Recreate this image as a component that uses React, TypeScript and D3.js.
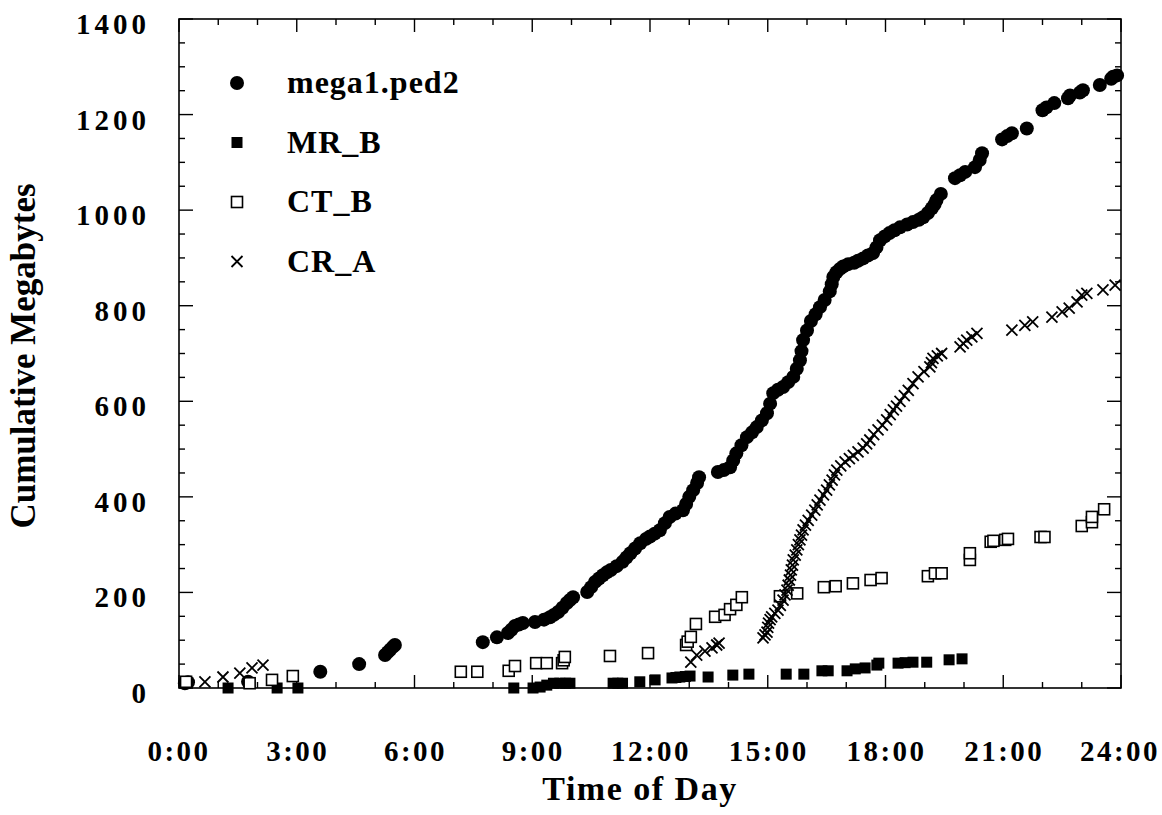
import React from "react";
import * as d3 from "d3";

const W = 1162;
const H = 815;

const xTickLabels = ["0:00", "3:00", "6:00", "9:00", "12:00", "15:00", "18:00", "21:00", "24:00"];
const yTickLabels = ["0", "200", "400", "600", "800", "1000", "1200", "1400"];
const seriesNames = ["mega1.ped2", "MR_B", "CT_B", "CR_A"];

// [hour of day, cumulative MB]
const mega: number[][] = [
  [0.15, 10], [0.23, 12], [1.76, 13], [3.6, 34], [4.59, 50], [5.25, 69], [5.32, 75], [5.38, 80], [5.45, 86], [5.5, 90],
  [7.74, 96], [8.1, 106], [8.38, 115], [8.47, 122], [8.56, 130], [8.66, 133], [8.76, 136], [9.07, 138], [9.3, 143],
  [9.45, 148], [9.55, 153], [9.66, 159], [9.77, 168], [9.88, 178], [9.96, 184], [10.04, 190],
  [10.4, 201], [10.5, 211], [10.6, 222], [10.7, 229], [10.8, 236], [10.9, 242], [11.0, 247], [11.15, 255], [11.3, 264],
  [11.4, 273], [11.5, 282], [11.62, 292], [11.75, 303], [11.9, 312], [12.0, 317], [12.12, 323], [12.25, 330],
  [12.38, 345], [12.5, 358], [12.65, 365], [12.84, 372], [12.92, 385], [13.0, 400], [13.1, 414], [13.2, 429], [13.25, 441],
  [13.73, 452], [13.88, 456], [14.04, 462], [14.12, 476], [14.2, 491], [14.33, 508], [14.47, 525], [14.6, 535],
  [14.72, 546], [14.85, 560], [14.98, 575], [15.06, 595], [15.14, 617], [15.26, 624], [15.39, 630], [15.52, 640],
  [15.65, 651], [15.74, 668], [15.82, 686], [15.86, 705], [15.9, 728], [16.0, 748], [16.1, 768], [16.22, 782],
  [16.33, 797], [16.45, 812], [16.58, 830], [16.63, 845], [16.67, 860], [16.75, 870], [16.84, 877], [16.92, 882],
  [17.05, 887], [17.2, 890], [17.3, 894], [17.43, 899], [17.55, 905], [17.68, 910], [17.77, 922], [17.86, 937],
  [17.98, 945], [18.1, 952], [18.23, 958], [18.37, 964], [18.55, 970], [18.7, 975], [18.85, 980], [18.96, 985],
  [19.08, 994], [19.18, 1004], [19.25, 1012], [19.3, 1021], [19.41, 1034],
  [19.77, 1067], [19.9, 1073], [20.03, 1080], [20.28, 1090], [20.4, 1105], [20.46, 1119], [20.97, 1148], [21.1, 1155],
  [21.22, 1161], [21.6, 1171], [22.0, 1209], [22.1, 1215], [22.3, 1224], [22.65, 1234], [22.7, 1240], [22.95, 1246],
  [23.03, 1251], [23.46, 1262], [23.75, 1275], [23.8, 1279], [23.9, 1282],
];

const mrB: number[][] = [
  [1.25, 0], [2.5, 0], [3.03, 0], [8.53, 0], [9.02, 0], [9.2, 2], [9.37, 6], [9.54, 10], [9.7, 10], [9.85, 10],
  [9.96, 10], [11.06, 10], [11.18, 10], [11.3, 10], [11.74, 13], [12.13, 17], [12.56, 21], [12.66, 22], [12.76, 23],
  [12.9, 24], [13.02, 25], [13.48, 23], [14.11, 27], [14.52, 29], [15.47, 29], [15.92, 29], [16.38, 36], [16.54, 36],
  [17.02, 36], [17.23, 40], [17.48, 42], [17.78, 48], [17.83, 52], [18.32, 52], [18.5, 53], [18.7, 54], [19.05, 54],
  [19.62, 59], [19.95, 61],
];

const ctB: number[][] = [
  [0.18, 13], [1.8, 10], [2.37, 17], [2.9, 25], [7.18, 34], [7.6, 34], [8.4, 36], [8.56, 46], [9.1, 52], [9.37, 52],
  [9.76, 52], [9.8, 58], [9.83, 65], [10.98, 67], [11.95, 73], [12.92, 90], [12.96, 97], [13.04, 107], [13.17, 134],
  [13.66, 149], [13.9, 153], [14.04, 165], [14.2, 174], [14.34, 190], [15.31, 192], [15.75, 198], [16.43, 211],
  [16.73, 213], [17.17, 219], [17.62, 226], [17.9, 230], [19.08, 234], [19.26, 240], [19.43, 240], [20.15, 268],
  [20.15, 282], [20.68, 306], [20.75, 308], [21.05, 310], [21.12, 312], [21.95, 316], [22.05, 316], [23.0, 339],
  [23.26, 347], [23.26, 358], [23.57, 374],
];

const crA: number[][] = [
  [0.66, 13], [1.12, 23], [1.55, 31], [1.86, 42], [2.14, 48],
  [13.04, 54], [13.19, 69], [13.4, 77], [13.58, 84], [13.7, 90], [13.76, 94],
  [14.88, 105], [14.93, 111], [14.98, 117], [15.0, 127], [15.02, 136], [15.06, 143], [15.1, 149], [15.18, 156],
  [15.26, 163], [15.32, 173], [15.39, 184], [15.44, 195], [15.49, 205], [15.52, 215], [15.55, 226], [15.58, 236],
  [15.6, 247], [15.63, 257], [15.65, 268], [15.7, 278], [15.74, 289], [15.78, 300], [15.82, 310], [15.86, 320],
  [15.9, 331], [15.96, 341], [16.03, 351], [16.12, 362], [16.2, 372], [16.26, 383], [16.33, 393], [16.42, 404],
  [16.5, 414], [16.57, 425], [16.64, 435], [16.7, 446], [16.76, 456], [16.86, 465], [16.97, 473], [17.08, 480],
  [17.18, 487], [17.3, 494], [17.43, 502], [17.52, 511], [17.6, 519], [17.7, 530], [17.81, 540], [17.92, 550],
  [18.03, 561], [18.12, 572], [18.2, 582], [18.28, 590], [18.37, 600], [18.48, 612], [18.58, 623], [18.7, 637],
  [18.83, 651], [18.98, 662], [19.13, 672], [19.17, 681], [19.21, 690], [19.32, 695], [19.43, 700],
  [19.9, 714], [19.98, 721], [20.07, 728], [20.2, 735], [20.33, 742],
  [21.22, 749], [21.55, 759], [21.75, 766], [22.24, 776], [22.5, 787], [22.68, 795], [22.88, 808], [23.0, 822],
  [23.13, 826], [23.54, 833], [23.85, 843],
];

const FONT = "'Liberation Serif', 'Times New Roman', serif";

const left = 179, right = 1121, top = 19, bottom = 688;

function Cross({ x, y, s }: { x: number; y: number; s: number }) {
  return (
    <path
      d={`M${x - s},${y - s}L${x + s},${y + s}M${x - s},${y + s}L${x + s},${y - s}`}
      stroke="#000"
      strokeWidth={1.8}
      fill="none"
    />
  );
}

function Marker({ kind, x, y }: { kind: number; x: number; y: number }) {
  if (kind === 0) return <circle cx={x} cy={y} r={7} fill="#000" />;
  if (kind === 1) return <rect x={x - 5.5} y={y - 5.5} width={11} height={11} fill="#000" />;
  if (kind === 2)
    return <rect x={x - 5.5} y={y - 5.5} width={11} height={11} fill="#fff" stroke="#000" strokeWidth={1.6} />;
  return <Cross x={x} y={y} s={5.5} />;
}

export default function App() {
  const x = d3.scaleLinear().domain([0, 24]).range([left, right]);
  const y = d3.scaleLinear().domain([0, 1400]).range([bottom, top]);

  const xMinor = x.ticks(24);
  const yMinor = y.ticks(28);
  const allSeries = [mega, mrB, ctB, crA];

  return (
    <svg width={W} height={H} style={{ position: "absolute", left: 0, top: 0, background: "#fff" }}>
      <rect x={0} y={0} width={W} height={H} fill="#fff" />
      {/* frame */}
      <rect x={left} y={top} width={right - left} height={bottom - top} fill="none" stroke="#000" strokeWidth={1.6} />
      {/* x ticks */}
      {xMinor.map((t) => {
        const major = t % 3 === 0;
        const len = major ? 13 : 6;
        return (
          <g key={"xt" + t}>
            <line x1={x(t)} x2={x(t)} y1={bottom} y2={bottom - len} stroke="#000" strokeWidth={1.4} />
            <line x1={x(t)} x2={x(t)} y1={top} y2={top + len} stroke="#000" strokeWidth={1.4} />
          </g>
        );
      })}
      {/* y ticks */}
      {yMinor.map((v) => {
        const major = v % 200 === 0;
        const len = major ? 14 : 6;
        return (
          <g key={"yt" + v}>
            <line x1={left} x2={left + len} y1={y(v)} y2={y(v)} stroke="#000" strokeWidth={1.4} />
            <line x1={right} x2={right - len} y1={y(v)} y2={y(v)} stroke="#000" strokeWidth={1.4} />
          </g>
        );
      })}
      {/* x tick labels */}
      {xTickLabels.map((lab, i) => (
        <text
          key={"xl" + i}
          x={x(i * 3) + (i === 8 ? -1 : i === 0 ? 0 : 1)}
          y={761}
          textAnchor="middle"
          fontFamily={FONT}
          fontWeight="bold"
          fontSize={29}
          letterSpacing={2.5}
        >
          {lab}
        </text>
      ))}
      {/* y tick labels */}
      {yTickLabels.map((lab, i) => (
        <text
          key={"yl" + i}
          x={150}
          y={y(i * 200) + 15}
          textAnchor="end"
          fontFamily={FONT}
          fontWeight="bold"
          fontSize={29}
          letterSpacing={4}
        >
          {lab}
        </text>
      ))}
      {/* axis titles */}
      <text x={640} y={800} textAnchor="middle" fontFamily={FONT} fontWeight="bold" fontSize={34} letterSpacing={1.5}>
        Time of Day
      </text>
      <text
        transform={`translate(35,356) rotate(-90)`}
        textAnchor="middle"
        fontFamily={FONT}
        fontWeight="bold"
        fontSize={35}
      >
        Cumulative Megabytes
      </text>
      {/* data */}
      {allSeries.map((s, k) => (
        <g key={"s" + k}>
          {s.map((d, i) => (
            <Marker key={i} kind={k} x={x(d[0])} y={y(d[1])} />
          ))}
        </g>
      ))}
      {/* legend */}
      {seriesNames.map((name, i) => (
        <g key={"lg" + i}>
          <Marker kind={i} x={237} y={83 + i * 59.5} />
          <text x={287} y={93 + i * 59.5} fontFamily={FONT} fontWeight="bold" fontSize={32} letterSpacing={1}>
            {name}
          </text>
        </g>
      ))}
    </svg>
  );
}
